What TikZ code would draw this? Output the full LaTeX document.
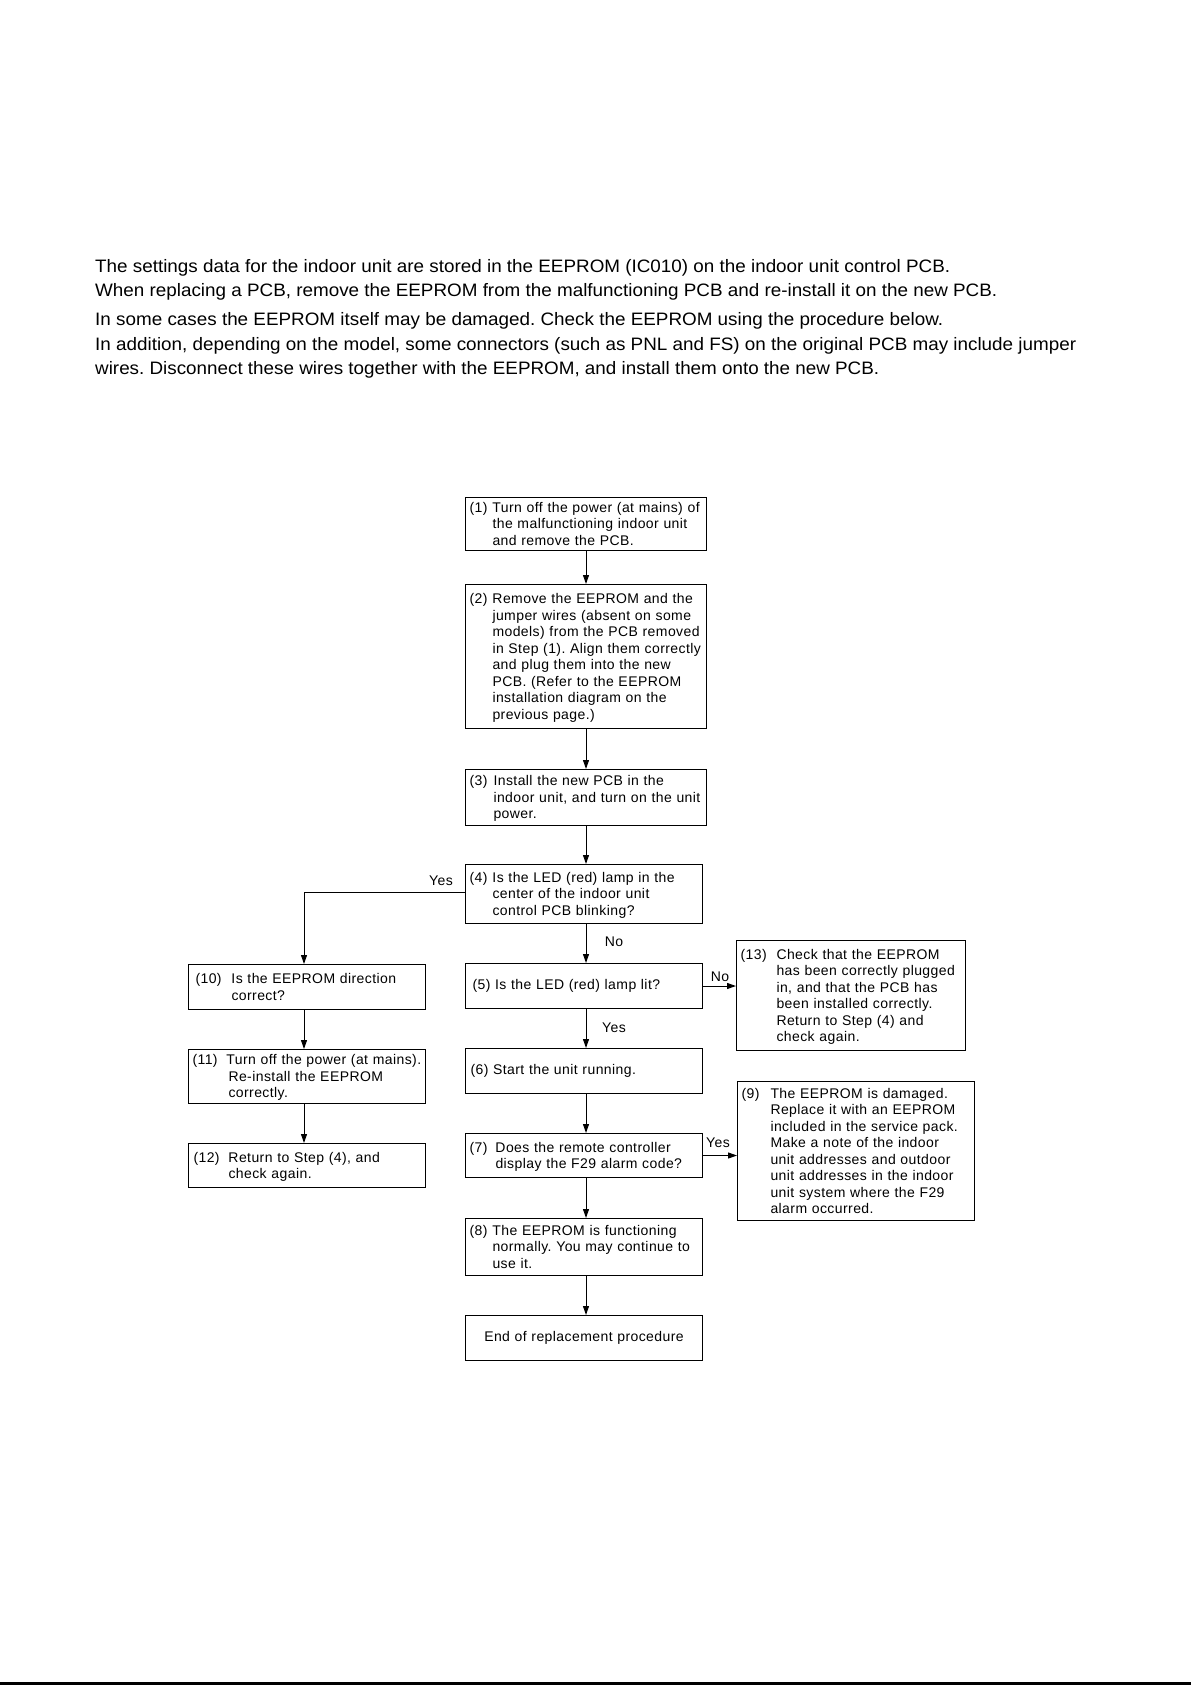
\documentclass[tikz,border=0pt]{standalone}
\usepackage{fontspec}
\usepackage{graphicx}
\setmainfont{Liberation Sans}
\newfontfamily\boxfont{Liberation Sans}[LetterSpace=3]
\usetikzlibrary{arrows.meta}
\frenchspacing
\newcommand\stp[3]{\raisebox{-1.5pt}[\height][\depth]{\begin{tabular}{@{}p{#1}@{}l@{}}#2&#3\end{tabular}}}
\newcommand\topline[2]{\resizebox{#1pt}{\height}{#2}}
\begin{document}
\begin{tikzpicture}[x=1pt,y=-1pt,
  box/.style={draw, line width=1pt, anchor=north west, inner xsep=4pt, inner ysep=0pt, align=left,
    font=\boxfont\fontsize{14}{16.5}\selectfont\frenchspacing},
  lbl/.style={font=\boxfont\fontsize{14}{16.5}\selectfont, inner sep=0pt},
  para/.style={anchor=base west, inner sep=0pt, font=\fontsize{18}{22}\selectfont\frenchspacing},
  arr/.style={line width=1pt, -{Triangle[length=9pt,width=6pt]}}]
\useasboundingbox (0,0) rectangle (1191,1685);
\fill[white] (0,0) rectangle (1191,1685);

% introductory text
\node[para] (t1) at (95,273) {\topline{855}{The settings data for the indoor unit are stored in the EEPROM (IC010) on the indoor unit control PCB.}};
\node[para] (t2) at (95,297) {\topline{902}{When replacing a PCB, remove the EEPROM from the malfunctioning PCB and re-install it on the new PCB.}};
\node[para] (t3) at (95,326) {\topline{848}{In some cases the EEPROM itself may be damaged. Check the EEPROM using the procedure below.}};
\node[para] (t4) at (95,350) {\topline{981}{In addition, depending on the model, some connectors (such as PNL and FS) on the original PCB may include jumper}};
\node[para] (t5) at (95,374) {\topline{784}{wires. Disconnect these wires together with the EEPROM, and install them onto the new PCB.}};

% main column
\node[box, text width=233pt, minimum height=53pt] (b1) at (465,497)
  {\stp{23pt}{(1)}{Turn off the power (at mains) of\\&the malfunctioning indoor unit\\&and remove the PCB.}};
\node[box, text width=233pt, minimum height=144pt] (b2) at (465,584)
  {\stp{23pt}{(2)}{Remove the EEPROM and the\\&jumper wires (absent on some\\&models) from the PCB removed\\&in Step (1). Align them correctly\\&and plug them into the new\\&PCB. (Refer to the EEPROM\\&installation diagram on the\\&previous page.)}};
\node[box, text width=233pt, minimum height=56pt] (b3) at (465,769)
  {\stp{24pt}{(3)}{Install the new PCB in the\\&indoor unit, and turn on the unit\\&power.}};
\node[box, text width=229pt, minimum height=59pt] (b4) at (465,864)
  {\stp{23pt}{(4)}{Is the LED (red) lamp in the\\&center of the indoor unit\\&control PCB blinking?}};
\node[box, text width=229pt, minimum height=45pt] (b5) at (465,963)
  {\hspace*{3pt}(5) Is the LED (red) lamp lit?};
\node[box, text width=229pt, minimum height=45pt] (b6) at (465,1048)
  {\hspace*{1pt}(6) Start the unit running.};
\node[box, text width=229pt, minimum height=44pt] (b7) at (465,1133)
  {\stp{26pt}{(7)}{Does the remote controller\\&display the F29 alarm code?}};
\node[box, text width=229pt, minimum height=57pt] (b8) at (465,1218)
  {\stp{23pt}{(8)}{The EEPROM is functioning\\&normally. You may continue to\\&use it.}};
\node[box, text width=229pt, minimum height=45pt, align=center] (be) at (465,1315)
  {End of replacement procedure};

% left column
\node[box, text width=229pt, minimum height=45pt] (b10) at (188,964)
  {\stp{39pt}{\hspace*{3pt}(10)}{Is the EEPROM direction\\&correct?}};
\node[box, text width=229pt, minimum height=54pt] (b11) at (188,1049)
  {\stp{34pt}{(11)}{Turn off the power (at mains).\\&\hspace*{2pt}Re-install the EEPROM\\&\hspace*{2pt}correctly.}};
\node[box, text width=229pt, minimum height=44pt] (b12) at (188,1143)
  {\stp{36pt}{\hspace*{1pt}(12)}{Return to Step (4), and\\&check again.}};

% right column
\node[box, text width=221pt, minimum height=110pt] (b13) at (736,940)
  {\stp{36pt}{(13)}{Check that the EEPROM\\&has been correctly plugged\\&in, and that the PCB has\\&been installed correctly.\\&Return to Step (4) and\\&check again.}};
\node[box, text width=229pt, minimum height=139pt] (b9) at (737,1081)
  {\stp{29pt}{(9)}{The EEPROM is damaged.\\&Replace it with an EEPROM\\&included in the service pack.\\&Make a note of the indoor\\&unit addresses and outdoor\\&unit addresses in the indoor\\&unit system where the F29\\&alarm occurred.}};

% reference coordinates
\coordinate (mc) at (586,0);
\coordinate (lc) at (304,0);
\coordinate (yb) at (0,892);

% connectors
\draw[arr] (b1.south -| mc) -- (b2.north -| mc);
\draw[arr] (b2.south -| mc) -- (b3.north -| mc);
\draw[arr] (b3.south -| mc) -- (b4.north -| mc);
\draw[arr] (b4.south -| mc) -- (b5.north -| mc);
\draw[arr] (b5.south -| mc) -- (b6.north -| mc);
\draw[arr] (b6.south -| mc) -- (b7.north -| mc);
\draw[arr] (b7.south -| mc) -- (b8.north -| mc);
\draw[arr] (b8.south -| mc) -- (be.north -| mc);
\draw[arr] (b4.west |- yb) -| (b10.north -| lc);
\draw[arr] (b10.south -| lc) -- (b11.north -| lc);
\draw[arr] (b11.south -| lc) -- (b12.north -| lc);
\draw[arr] (b5.east) -- (b5.east -| b13.west);
\draw[arr] (b7.east) -- (b7.east -| b9.west);

% labels
\node[lbl] (l1) at (441,881) {Yes};
\node[lbl] (l2) at (614,942) {No};
\node[lbl] (l3) at (614,1028) {Yes};
\node[lbl] (l4) at (720,977) {No};
\node[lbl] (l5) at (718,1143) {Yes};

% page rule
\fill (0,1682) rectangle (1191,1685);
\end{tikzpicture}
\end{document}
